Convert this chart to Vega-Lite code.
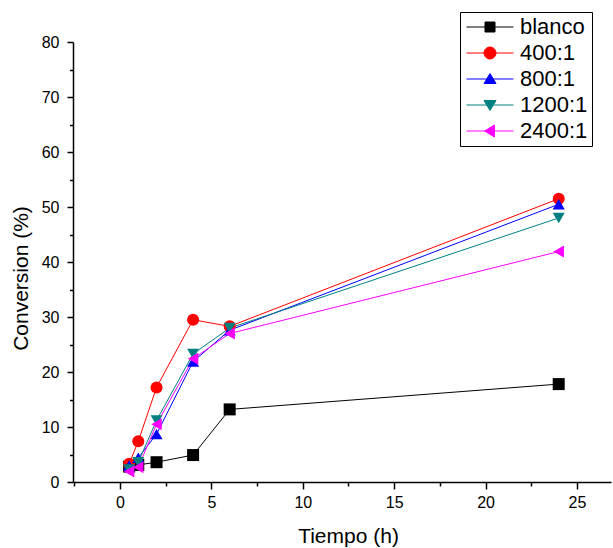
{
  "$schema": "https://vega.github.io/schema/vega-lite/v6.json",
  "width": 538,
  "height": 440,
  "autosize": "none",
  "padding": {"left": 73, "top": 42, "right": 2, "bottom": 66},
  "background": "white",
  "config": {
    "view": {"stroke": null},
    "font": "Liberation Sans",
    "axis": {"labelFont": "Liberation Sans", "titleFont": "Liberation Sans", "labelColor": "black", "titleColor": "black", "domainColor": "black", "tickColor": "black", "domainWidth": 1.5, "tickWidth": 1.5, "grid": false, "titleFontWeight": "normal"}
  },
  "data": {
    "values": [
      {"t": 0.5, "c": 2.8, "s": "blanco"},
      {"t": 1, "c": 3.1, "s": "blanco"},
      {"t": 2, "c": 3.6, "s": "blanco"},
      {"t": 4, "c": 4.9, "s": "blanco"},
      {"t": 6, "c": 13.2, "s": "blanco"},
      {"t": 24, "c": 17.8, "s": "blanco"},
      {"t": 0.5, "c": 3.3, "s": "400:1"},
      {"t": 1, "c": 7.4, "s": "400:1"},
      {"t": 2, "c": 17.2, "s": "400:1"},
      {"t": 4, "c": 29.5, "s": "400:1"},
      {"t": 6, "c": 28.3, "s": "400:1"},
      {"t": 24, "c": 51.5, "s": "400:1"},
      {"t": 0.5, "c": 3.0, "s": "800:1"},
      {"t": 1, "c": 4.4, "s": "800:1"},
      {"t": 2, "c": 8.7, "s": "800:1"},
      {"t": 4, "c": 21.9, "s": "800:1"},
      {"t": 6, "c": 27.6, "s": "800:1"},
      {"t": 24, "c": 50.5, "s": "800:1"},
      {"t": 0.5, "c": 2.3, "s": "1200:1"},
      {"t": 1, "c": 3.6, "s": "1200:1"},
      {"t": 2, "c": 11.2, "s": "1200:1"},
      {"t": 4, "c": 23.3, "s": "1200:1"},
      {"t": 6, "c": 28.0, "s": "1200:1"},
      {"t": 24, "c": 48.0, "s": "1200:1"},
      {"t": 0.5, "c": 1.9, "s": "2400:1"},
      {"t": 1, "c": 2.7, "s": "2400:1"},
      {"t": 2, "c": 10.5, "s": "2400:1"},
      {"t": 4, "c": 22.4, "s": "2400:1"},
      {"t": 6, "c": 27.0, "s": "2400:1"},
      {"t": 24, "c": 41.9, "s": "2400:1"}
    ]
  },
  "resolve": {"axis": {"x": "independent", "y": "independent"}},
  "layer": [
    {
      "mark": {"type": "line", "strokeWidth": 1},
      "encoding": {
        "x": {"field": "t", "type": "quantitative", "scale": {"domain": [-2.57, 26.86], "nice": false, "zero": false},
              "axis": {"orient": "bottom", "values": [0, 5, 10, 15, 20, 25], "tickSize": 7, "labelFontSize": 16, "labelPadding": 5, "title": "Tiempo (h)", "titleFontSize": 21, "titlePadding": 15, "titleX": 275}},
        "y": {"field": "c", "type": "quantitative", "scale": {"domain": [0, 80], "nice": false},
              "axis": {"orient": "left", "values": [0, 10, 20, 30, 40, 50, 60, 70, 80], "tickSize": 6, "labelFontSize": 16, "labelPadding": 8, "title": "Conversion (%)", "titleFontSize": 21, "titlePadding": 10, "titleY": 236}},
        "color": {"field": "s", "type": "nominal",
                  "scale": {"domain": ["blanco", "400:1", "800:1", "1200:1", "2400:1"], "range": ["#000000", "#FF0000", "#0000FF", "#008080", "#FF00FF"]},
                  "legend": {"orient": "none", "legendX": 387, "legendY": -30, "title": null, "strokeColor": "black", "padding": 4, "labelFontSize": 22, "labelFont": "Liberation Sans", "labelColor": "black", "symbolSize": 100, "rowPadding": 4, "symbolOffset": 15, "labelOffset": 19,
                    "encode": {"symbols": {"update": {
                      "shape": {"signal": "datum.value === 'blanco' ? 'M-4.7,0H4.7M-1,-1H1V1H-1Z' : datum.value === '400:1' ? 'M-4.7,0H4.7M-1.2,0A1.2,1.2,0,1,1,1.2,0A1.2,1.2,0,1,1,-1.2,0Z' : datum.value === '800:1' ? 'M-4.7,0H4.7M0,-1.1L1.2,0.9H-1.2Z' : datum.value === '1200:1' ? 'M-4.7,0H4.7M0,1.1L1.2,-0.9H-1.2Z' : 'M-4.7,0H4.7M-1.1,0L0.9,-1.2V1.2Z'"},
                      "stroke": {"signal": "scale('color', datum.value)"},
                      "fill": {"signal": "scale('color', datum.value)"},
                      "strokeWidth": {"value": 1},
                      "opacity": {"value": 1}
                    }}}}},
        "order": {"field": "t", "type": "quantitative"}
      }
    },
    {
      "mark": {"type": "point", "filled": true, "opacity": 1},
      "encoding": {
        "x": {"field": "t", "type": "quantitative",
              "axis": {"orient": "bottom", "values": [-2.5, 2.5, 7.5, 12.5, 17.5, 22.5], "tickSize": 4, "labels": false, "domain": false, "title": null}},
        "y": {"field": "c", "type": "quantitative",
              "axis": {"orient": "left", "values": [5, 15, 25, 35, 45, 55, 65, 75], "tickSize": 3.5, "labels": false, "domain": false, "title": null}},
        "color": {"field": "s", "type": "nominal"},
        "shape": {"field": "s", "type": "nominal",
                  "scale": {"range": ["triangle-down", "triangle-left", "circle", "triangle-up", "square"]},
                  "legend": null},
        "size": {"field": "s", "type": "nominal",
                 "scale": {"range": [144, 144, 100, 144, 90]},
                 "legend": null}
      }
    }
  ]
}
